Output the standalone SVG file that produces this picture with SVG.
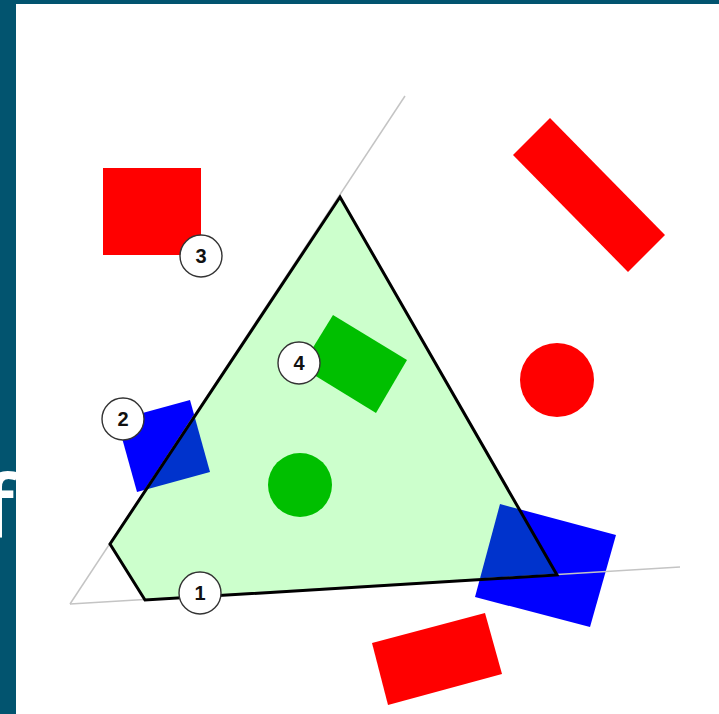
<svg xmlns="http://www.w3.org/2000/svg" width="719" height="714" viewBox="0 0 719 714">
<style>
.lbl circle{fill:#fff;stroke:#333;stroke-width:1.4}
.lbl text{font-family:"Liberation Sans",Arial,sans-serif;font-weight:bold;font-size:20px;fill:#111;text-anchor:middle}
.red{fill:#ff0000}
.blue{fill:#0000ff}
.green{fill:#00b000}
.guide{stroke:#c4c4c4;stroke-width:1.5;fill:none}
.edge{stroke:#000;stroke-width:3;fill:none;stroke-linejoin:miter}
</style>
<rect x="0" y="0" width="719" height="714" fill="#ffffff"/>
<rect x="0" y="0" width="16" height="714" fill="#02546f"/>
<rect x="0" y="0" width="719" height="4" fill="#02546f"/>
<text x="14" y="537" font-family="'Open Sans','DejaVu Sans',sans-serif" font-weight="600" font-size="86" fill="#ffffff" text-anchor="end">f</text>

<g id="red-square"><rect class="red" x="103" y="168" width="98" height="87"/></g>
<g id="red-bar"><polygon class="red" points="550,118 665,235 628,272 513,155"/></g>
<g id="red-circle"><circle class="red" cx="557" cy="380" r="37"/></g>
<g id="red-bottom"><polygon class="red" points="372,643 485,613 502,674 388,705"/></g>
<g id="blue-square"><polygon class="blue" points="117,420 190,400 210,472 137,492"/></g>
<g id="blue-big"><polygon class="blue" points="500,504 616,535 590,627 475,597"/></g>
<g id="green-square"><polygon class="green" points="333,315 407,360 376,413 301,367"/></g>
<g id="green-circle"><circle class="green" cx="300" cy="485" r="32"/></g>

<g id="connectors">
<polygon points="340,197 557,575 145,600 110,544" fill="#00ff00" fill-opacity="0.2"/>
<line class="guide" x1="70" y1="604" x2="405" y2="96"/>
<line class="guide" x1="70" y1="604" x2="680" y2="567"/>
<polygon class="edge" points="340,197 557,575 145,600 110,544"/>
</g>

<g id="label-1" class="lbl"><circle cx="200" cy="593" r="21"/><text x="200" y="600">1</text></g>
<g id="label-2" class="lbl"><circle cx="123" cy="419" r="21"/><text x="123" y="426">2</text></g>
<g id="label-3" class="lbl"><circle cx="201" cy="256" r="21"/><text x="201" y="263">3</text></g>
<g id="label-4" class="lbl"><circle cx="299" cy="363" r="21"/><text x="299" y="370">4</text></g>
</svg>
